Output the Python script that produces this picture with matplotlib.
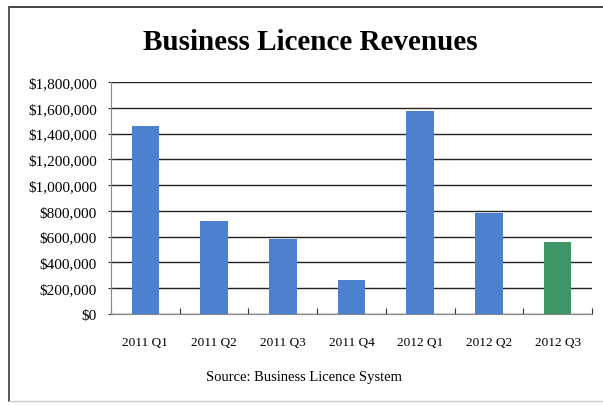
import matplotlib.pyplot as plt
from matplotlib.lines import Line2D
from matplotlib.ticker import FuncFormatter

quarters = ['2011 Q1', '2011 Q2', '2011 Q3', '2011 Q4', '2012 Q1', '2012 Q2', '2012 Q3']
revenues = [1458000, 723000, 583000, 267000, 1575000, 780000, 557000]
bar_colors = ['#4d80cf'] * 6 + ['#3f9566']
y_ticks = list(range(0, 1800001, 200000))

plt.rcParams['font.family'] = ['Liberation Serif', 'DejaVu Serif']

W, H = 603, 406
fig = plt.figure(figsize=(W / 100, H / 100), dpi=100)
ax = fig.add_axes([111 / W, 1 - 315 / H, (592 - 111) / W, (315 - 83) / H])

# outer chart frame: dark left/top edges, faint bottom edge
def px_line(x0, y0, x1, y1, color, lw):
    fig.lines.append(Line2D([x0 / W, x1 / W], [1 - y0 / H, 1 - y1 / H],
                            transform=fig.transFigure, color=color, linewidth=lw))

px_line(9, 8, W, 8, '#444444', 1.4)
px_line(9, 8, 9, 402, '#555555', 1.4)
px_line(9, 402, W, 402, '#cccccc', 1.0)

x = range(len(quarters))
ax.bar(x, revenues, width=0.4, color=bar_colors, zorder=3)

ax.set_xlim(-0.5, len(quarters) - 0.5)
ax.set_ylim(0, 1800000)
ax.set_yticks(y_ticks)
ax.yaxis.set_major_formatter(FuncFormatter(lambda v, p: f'${int(v):,}'))
ax.set_xticks([i + 0.5 for i in range(-1, len(quarters))])
ax.set_xticklabels([])
ax.set_xticks(list(x), minor=True)
ax.set_xticklabels(quarters, minor=True)
ax.tick_params(axis='x', which='minor', length=0, pad=16, labelsize=9.5)
ax.tick_params(axis='x', which='major', length=4, direction='in', color='#333333')
ax.tick_params(axis='y', length=4, direction='inout', labelsize=11, pad=8, color='#333333')

ax.grid(axis='y', color='#222222', linewidth=1.0, zorder=0)
for side in ['top', 'right']:
    ax.spines[side].set_visible(False)
ax.spines['left'].set_color('#888888')
ax.spines['bottom'].set_color('#888888')

fig.text(0.514, 1 - 42 / H, 'Business Licence Revenues', ha='center', va='center',
         fontsize=21, fontweight='bold')
fig.text(0.504, 1 - 378 / H, 'Source: Business Licence System', ha='center', va='center',
         fontsize=10.5)

fig.savefig('out.png', dpi=100)
